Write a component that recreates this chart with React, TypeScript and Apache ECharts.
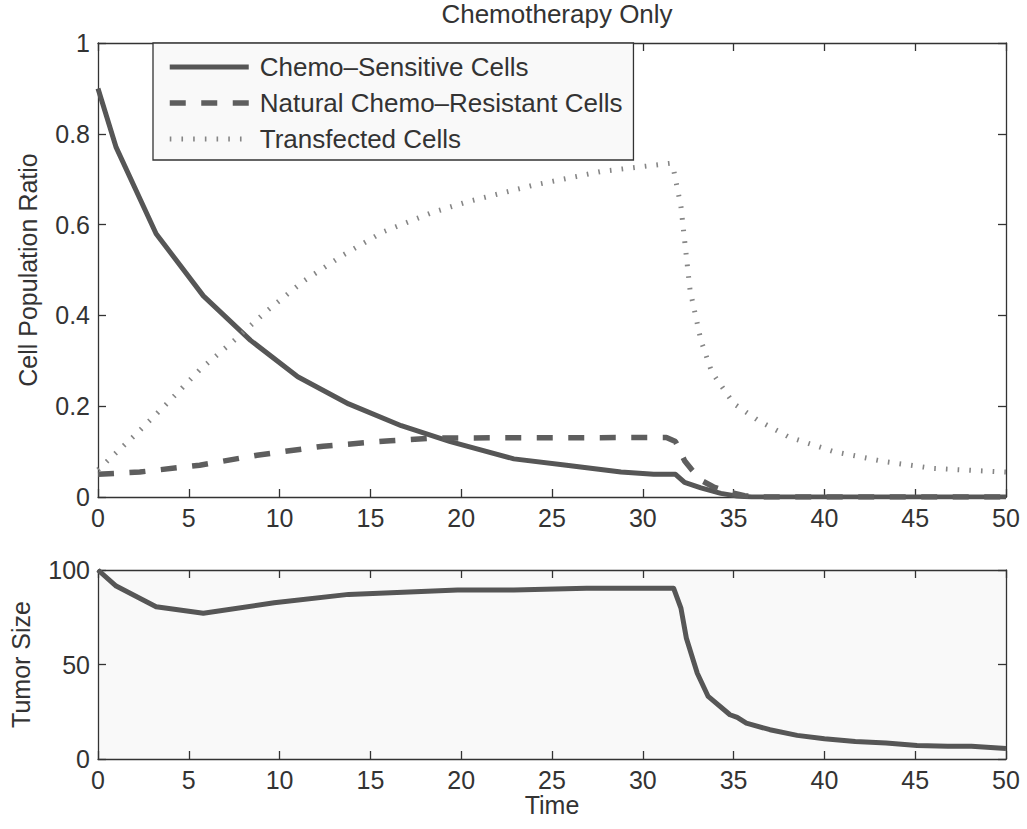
import React, { useEffect, useRef } from "react";
import * as echarts from "echarts";

const chartTitle = "Chemotherapy Only";
const seriesNames = ["Chemo–Sensitive Cells", "Natural Chemo–Resistant Cells", "Transfected Cells"];

const timeTicks = { min: 0, max: 50, interval: 5 };
const ratioTicks = { min: 0, max: 1, interval: 0.2 };
const tumorTicks = { min: 0, max: 100, interval: 50 };

const sensitiveTime = [0, 1.0, 3.2, 5.8, 8.4, 11.0, 13.8, 16.7, 19.4, 22.9, 25.8, 28.8, 30.6, 31.8, 32.3, 33.2, 34.3, 35.2, 36, 50];
const sensitiveValues = [0.9, 0.77, 0.58, 0.443, 0.345, 0.265, 0.205, 0.157, 0.122, 0.084, 0.07, 0.055, 0.05, 0.05, 0.032, 0.02, 0.008, 0.002, 0, 0];

const resistantTime = [0, 2.3, 5.6, 8.75, 12.4, 16.1, 18.5, 31.3, 31.8, 32.3, 32.7, 33.2, 33.9, 34.7, 35.6, 36.5, 50];
const resistantValues = [0.05, 0.055, 0.07, 0.092, 0.112, 0.124, 0.13, 0.131, 0.122, 0.08, 0.06, 0.037, 0.022, 0.011, 0.003, 0, 0];

const transfectedTime = [0, 1.95, 3.8, 5.6, 7.5, 9.3, 11.3, 13.5, 15.7, 18.3, 20.3, 24, 27.7, 31.5, 31.7, 32.1, 32.3, 32.6, 33.2, 33.8, 35.0, 36.3, 38, 40.5, 43.3, 46, 49.4, 50];
const transfectedValues = [0.06, 0.133, 0.206, 0.28, 0.345, 0.41, 0.475, 0.533, 0.584, 0.625, 0.65, 0.687, 0.717, 0.735, 0.72, 0.64, 0.566, 0.456, 0.345, 0.275, 0.206, 0.17, 0.133, 0.1, 0.078, 0.063, 0.056, 0.055];

const tumorTime = [0, 1, 3.2, 5.8, 9.7, 13.8, 19.8, 22.9, 26.9, 31.7, 32.1, 32.4, 33.0, 33.6, 34.8, 35.2, 35.7, 37.0, 38.5, 40.0, 41.7, 43.4, 45.1, 46.8, 48.1, 50];
const tumorValues = [100, 91.5, 80.6, 77.1, 82.7, 87.1, 89.4, 89.4, 90.3, 90.3, 79.8, 63.9, 45.4, 33.1, 23.4, 22.0, 19.0, 15.5, 12.5, 10.7, 9.3, 8.5, 7.2, 6.7, 6.7, 5.5];

const zip = (xs: number[], ys: number[]) => xs.map((x, i) => [x, ys[i]]);

const FONT = "'Liberation Sans', Arial, Helvetica, sans-serif";
const TEXT = "#333";
const AXIS = "#333";
const FS = 25;

function axisCommon(extra: any) {
  return {
    type: "value",
    axisLine: { show: true, onZero: false, lineStyle: { color: AXIS, width: 1.3 } },
    axisTick: { show: true, inside: true, length: 8, lineStyle: { color: AXIS, width: 1.3 } },
    splitLine: { show: false },
    axisLabel: { show: true, color: TEXT, fontSize: FS, fontFamily: FONT, margin: 8 },
    ...extra,
  };
}

export default function App() {
  const ref = useRef<HTMLDivElement>(null);
  useEffect(() => {
    const chart = echarts.init(ref.current!, null, { renderer: "svg" });
    const noLabel = { show: false };
    const option: any = {
      animation: false,
      backgroundColor: "#fff",
      textStyle: { fontFamily: FONT },
      title: {
        text: chartTitle,
        left: 552,
        textAlign: "center",
        top: -4,
        textStyle: { fontSize: 26, fontWeight: "normal", color: TEXT, fontFamily: FONT },
      },
      legend: {
        orient: "vertical",
        left: 153,
        top: 43,
        data: seriesNames,
        itemWidth: 79,
        itemHeight: 25,
        itemGap: 10,
        padding: [11, 11, 8, 14],
        backgroundColor: "#f9f9f9",
        borderColor: "#333",
        borderWidth: 1.3,
        borderRadius: 0,
        itemStyle: { opacity: 0 },
        lineStyle: { width: "inherit", type: "inherit", cap: "butt" },
        textStyle: { fontSize: 26, color: TEXT, fontFamily: FONT, lineHeight: 25, padding: [0, 0, 0, 6] },
      },
      grid: [
        { left: 98, right: 21, top: 43, height: 454, show: true, backgroundColor: "#fff", borderWidth: 0 },
        { left: 98, right: 21, top: 570, height: 189, show: true, backgroundColor: "#f9f9f9", borderWidth: 0 },
      ],
      xAxis: [
        axisCommon({ gridIndex: 0, position: "bottom", ...timeTicks }),
        axisCommon({ gridIndex: 0, position: "top", ...timeTicks, axisLabel: noLabel }),
        axisCommon({
          gridIndex: 1,
          position: "bottom",
          ...timeTicks,
          name: "Time",
          nameLocation: "middle",
          nameGap: 31,
          nameTextStyle: { fontSize: FS, color: TEXT, fontFamily: FONT },
        }),
        axisCommon({ gridIndex: 1, position: "top", ...timeTicks, axisLabel: noLabel }),
      ],
      yAxis: [
        axisCommon({
          gridIndex: 0,
          position: "left",
          ...ratioTicks,
          name: "Cell Population Ratio",
          nameLocation: "middle",
          nameGap: 58,
          nameTextStyle: { fontSize: FS, color: TEXT, fontFamily: FONT },
        }),
        axisCommon({ gridIndex: 0, position: "right", ...ratioTicks, axisLabel: noLabel }),
        axisCommon({
          gridIndex: 1,
          position: "left",
          ...tumorTicks,
          name: "Tumor Size",
          nameLocation: "middle",
          nameGap: 65,
          nameTextStyle: { fontSize: FS, color: TEXT, fontFamily: FONT },
        }),
        axisCommon({ gridIndex: 1, position: "right", ...tumorTicks, axisLabel: noLabel }),
      ],
      series: [
        {
          name: seriesNames[0],
          type: "line",
          xAxisIndex: 0,
          yAxisIndex: 0,
          data: zip(sensitiveTime, sensitiveValues),
          symbol: "none",
          lineStyle: { color: "#565656", width: 5, type: "solid", join: "round" },
          itemStyle: { color: "#565656" },
        },
        {
          name: seriesNames[1],
          type: "line",
          xAxisIndex: 0,
          yAxisIndex: 0,
          data: zip(resistantTime, resistantValues),
          symbol: "none",
          lineStyle: { color: "#5e5e5e", width: 5.5, type: [16, 15.5], cap: "butt" },
          itemStyle: { color: "#5e5e5e" },
        },
        {
          name: seriesNames[2],
          type: "line",
          xAxisIndex: 0,
          yAxisIndex: 0,
          data: zip(transfectedTime, transfectedValues),
          symbol: "none",
          lineStyle: { color: "#858585", width: 5, type: [1.6, 10.1], cap: "butt" },
          itemStyle: { color: "#858585" },
        },
        {
          name: "Tumor Size",
          type: "line",
          xAxisIndex: 2,
          yAxisIndex: 2,
          data: zip(tumorTime, tumorValues),
          symbol: "none",
          lineStyle: { color: "#565656", width: 5, join: "round" },
          itemStyle: { color: "#565656" },
        },
      ],
    };
    chart.setOption(option);
    return () => chart.dispose();
  }, []);
  return (
    <div
      ref={ref}
      style={{ position: "fixed", left: 0, top: 0, width: 1027, height: 829, background: "#fff" }}
    />
  );
}
